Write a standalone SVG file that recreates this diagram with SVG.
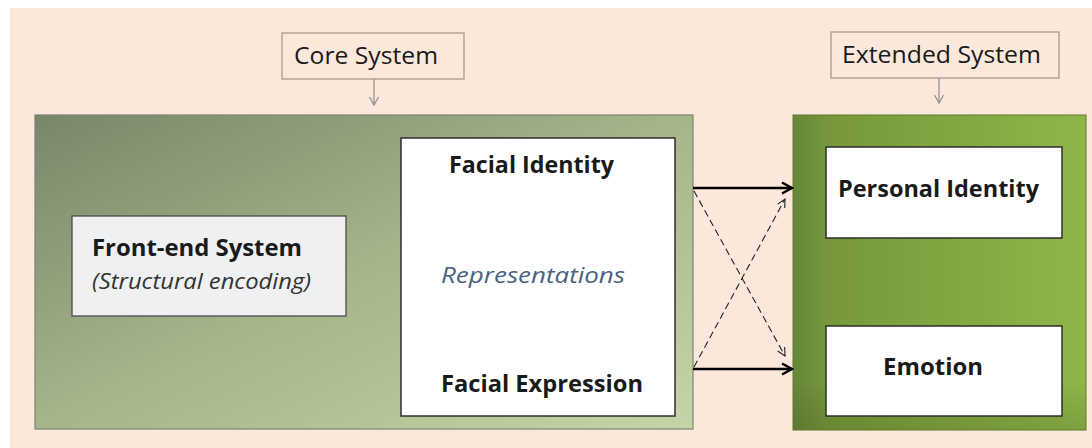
<svg xmlns="http://www.w3.org/2000/svg" width="1092" height="448" viewBox="0 0 1092 448">
  <defs>
    <style>
      .lbl { font-family: "Open Sans", "Liberation Sans", sans-serif; fill: #1a1a1a; }
      .b { font-weight: bold; font-size: 23.5px; }
      .it { font-style: italic; font-size: 21px; }
      .title { fill: #fbe8db; stroke: #a89088; stroke-width: 1.2; }
      .white { fill: #ffffff; stroke: #2e2e2e; stroke-width: 1.5; }
      .solid { stroke: #000; stroke-width: 2.5; fill: none; }
      .dash { stroke: #222; stroke-width: 1.1; stroke-dasharray: 7 4; fill: none; }
      .gray { stroke: #8c8c8c; stroke-width: 1.2; fill: none; }
    </style>
    <linearGradient id="coreG" x1="0" y1="0" x2="1" y2="1">
      <stop offset="0" stop-color="#788769"/>
      <stop offset="0.5" stop-color="#a6b58a"/>
      <stop offset="1" stop-color="#c6d5a6"/>
    </linearGradient>
    <linearGradient id="extG" x1="0" y1="0" x2="1" y2="0">
      <stop offset="0" stop-color="#66863a"/>
      <stop offset="0.12" stop-color="#76983a"/>
      <stop offset="1" stop-color="#8fb64a"/>
    </linearGradient>
    <linearGradient id="extV" x1="0" y1="0" x2="0" y2="1">
      <stop offset="0" stop-color="#000" stop-opacity="0"/>
      <stop offset="0.85" stop-color="#000" stop-opacity="0"/>
      <stop offset="1" stop-color="#203000" stop-opacity="0.15"/>
    </linearGradient>
    <marker id="headSolid" viewBox="0 0 14 14" refX="12" refY="7" markerWidth="14" markerHeight="14" markerUnits="userSpaceOnUse" orient="auto">
      <path d="M2,1.5 L12,7 L2,12.5" fill="none" stroke="#000" stroke-width="2.5"/>
    </marker>
    <marker id="headDash" viewBox="0 0 12 12" refX="10" refY="6" markerWidth="12" markerHeight="12" markerUnits="userSpaceOnUse" orient="auto">
      <path d="M2,2 L10,6 L2,10" fill="none" stroke="#222" stroke-width="1.1"/>
    </marker>
    <marker id="headGray" viewBox="0 0 12 12" refX="10" refY="6" markerWidth="12" markerHeight="12" markerUnits="userSpaceOnUse" orient="auto">
      <path d="M2,1.5 L10,6 L2,10.5" fill="none" stroke="#8c8c8c" stroke-width="1.2"/>
    </marker>
  </defs>

  <rect x="0" y="0" width="1092" height="448" fill="#ffffff"/>
  <rect id="background" x="10" y="8" width="1082" height="440" fill="#fbe8db"/>

  <g id="core-system-label">
    <rect class="title" x="282" y="33" width="182" height="46"/>
    <text class="lbl" x="294" y="64" font-size="23" textLength="144" lengthAdjust="spacingAndGlyphs">Core System</text>
  </g>

  <g id="extended-system-label">
    <rect class="title" x="831" y="32" width="228" height="46"/>
    <text class="lbl" x="842" y="63" font-size="23" textLength="199" lengthAdjust="spacingAndGlyphs">Extended System</text>
  </g>

  <g id="core-system">
    <rect x="35" y="115" width="658" height="314" fill="url(#coreG)" stroke="#7d8270" stroke-width="1.2"/>
  </g>

  <g id="extended-system">
    <rect x="793" y="115" width="293" height="315" fill="url(#extG)"/>
    <rect x="793" y="115" width="293" height="315" fill="url(#extV)" stroke="#5d7a2c" stroke-width="1"/>
  </g>

  <g id="front-end-system">
    <rect x="72" y="216" width="274" height="100" fill="#eef0f2" stroke="#4a4a4a" stroke-width="1.3"/>
    <text class="lbl b" x="92" y="256" textLength="210" lengthAdjust="spacingAndGlyphs">Front-end System</text>
    <text class="lbl it" x="92" y="289" textLength="219" lengthAdjust="spacingAndGlyphs" style="fill:#333">(Structural encoding)</text>
  </g>

  <g id="representations">
    <rect class="white" x="401" y="138" width="274" height="278"/>
    <text class="lbl b" x="449" y="173" textLength="165" lengthAdjust="spacingAndGlyphs">Facial Identity</text>
    <text class="lbl it" x="441" y="283" textLength="184" lengthAdjust="spacingAndGlyphs" style="fill:#4a6282">Representations</text>
    <text class="lbl b" x="441" y="392" textLength="202" lengthAdjust="spacingAndGlyphs">Facial Expression</text>
  </g>

  <g id="personal-identity">
    <rect class="white" x="826" y="147" width="236" height="91"/>
    <text class="lbl b" x="838" y="197" textLength="201" lengthAdjust="spacingAndGlyphs">Personal Identity</text>
  </g>

  <g id="emotion">
    <rect class="white" x="826" y="326" width="236" height="90"/>
    <text class="lbl b" x="883" y="375" textLength="100" lengthAdjust="spacingAndGlyphs">Emotion</text>
  </g>

  <g id="connectors">
    <line class="gray" x1="374" y1="79" x2="374" y2="105" marker-end="url(#headGray)"/>
    <line class="gray" x1="939" y1="78" x2="939" y2="103" marker-end="url(#headGray)"/>
    <line class="solid" x1="693" y1="188" x2="792" y2="188" marker-end="url(#headSolid)"/>
    <line class="solid" x1="693" y1="369" x2="792" y2="369" marker-end="url(#headSolid)"/>
    <line class="dash" x1="694" y1="191" x2="785" y2="356" marker-end="url(#headDash)"/>
    <line class="dash" x1="694" y1="367" x2="785" y2="199" marker-end="url(#headDash)"/>
  </g>
</svg>
